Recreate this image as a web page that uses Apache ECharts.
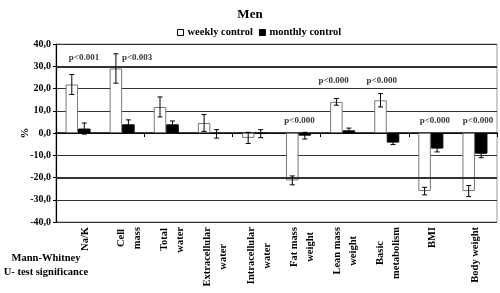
<!DOCTYPE html>
<html>
<head>
<meta charset="utf-8">
<script src="https://cdn.jsdelivr.net/npm/echarts@6/dist/echarts.min.js"></script>
<style>
  html, body { margin: 0; padding: 0; background: #fff; }
  #main { width: 500px; height: 293px; }
</style>
</head>
<body>
<div id="main"></div>
<script>
const categories = ['Na/K', 'Cell\nmass', 'Total\nwater', 'Extracellular\nwater', 'Intracellular\nwater',
  'Fat mass\nweight', 'Lean mass\nweight', 'Basic\nmetabolism', 'BMI', 'Body weight'];
const weekly = [21.8, 29.0, 11.7, 4.5, -2.2, -21.3, 14.0, 14.7, -26.1, -26.1];
const weeklyErr = [4.5, 6.6, 4.5, 3.8, 2.5, 2.0, 1.5, 3.0, 1.7, 2.5];
const monthly = [2.0, 3.9, 3.9, -0.4, -0.3, -1.2, 1.2, -4.3, -7.0, -9.3];
const monthlyErr = [2.5, 2.0, 1.5, 1.9, 1.8, 1.5, 1.0, 0.9, 1.5, 1.8];
const pTexts = ['p<0.001', 'p<0.003', '', '', '', 'p<0.000', 'p<0.000', 'p<0.000', 'p<0.000', 'p<0.000'];
const pLevels = [34, 34, null, null, null, 5.7, 23.3, 23.3, 5.7, 5.7];
const yTicks = [-40, 40, 10];

// label nudges, px
const pShift = [6, 15, 0, 0, 0, 1, -9, -5, 4, 3];

const serif = 'Liberation Serif';
const labelFont = 'bold 10.5px "Liberation Serif"';
const barW = 12.5;

let chart = echarts.init(document.getElementById('main'));

// centre the lines of the rotated category labels: pad shorter lines on their axis end
const ctx = document.createElement('canvas').getContext('2d');
ctx.font = labelFont;
const catRich = {};
function catFormatter(v) {
  const lines = v.split('\n');
  const widths = lines.map((s) => ctx.measureText(s).width);
  const maxW = Math.max(...widths);
  return lines.map((s, i) => {
    const pad = Math.round((maxW - widths[i]) / 2);
    const key = 'p' + pad;
    if (!catRich[key]) {
      catRich[key] = { fontFamily: serif, fontWeight: 'bold', fontSize: 10.5, lineHeight: 16, color: '#000', padding: [0, pad, 0, 0] };
    }
    return '{' + key + '|' + s + '}';
  }).join('\n');
}
categories.forEach(catFormatter);

function errorSeries(name, vals, errs, side) {
  return {
    type: 'custom',
    name: name + ' err',
    z: 5,
    silent: true,
    data: vals.map((v, i) => [i, v, errs[i]]),
    renderItem: function (params, api) {
      const i = api.value(0);
      const v = api.value(1);
      const e = api.value(2);
      const hi = api.coord([i, v + e]);
      const lo = api.coord([i, v - e]);
      const x = hi[0] + side * barW / 2;
      const cap = 2.5;
      const st = { stroke: '#000', lineWidth: 1 };
      return {
        type: 'group',
        children: [
          { type: 'line', shape: { x1: x, y1: hi[1], x2: x, y2: lo[1] }, style: st },
          { type: 'line', shape: { x1: x - cap, y1: hi[1], x2: x + cap, y2: hi[1] }, style: st },
          { type: 'line', shape: { x1: x - cap, y1: lo[1], x2: x + cap, y2: lo[1] }, style: st },
        ],
      };
    },
  };
}

let option = {
  animation: false,
  title: {
    text: 'Men',
    left: 'center',
    top: 3,
    textStyle: { fontFamily: serif, fontWeight: 'bold', fontSize: 13, color: '#000' },
  },
  legend: {
    left: 172,
    top: 22,
    itemWidth: 6,
    itemHeight: 6,
    itemGap: 6,
    icon: 'rect',
    data: ['weekly control', 'monthly control'],
    textStyle: { fontFamily: serif, fontWeight: 'bold', fontSize: 10.5, color: '#000', padding: [0, 0, 0, -1] },
    itemStyle: { borderColor: '#000', borderWidth: 1 },
  },
  grid: [
    {
      left: 56,
      right: 3,
      top: 44,
      bottom: 71,
      show: true,
      borderColor: '#999',
      borderWidth: 1,
    },
    // category names sit on a slightly narrower band, as in the original
    { left: 64, right: 3, top: 44, bottom: 71, show: false },
  ],
  graphic: [
    {
      type: 'text',
      x: 46,
      y: 251,
      style: {
        text: 'Mann-Whitney\nU- test significance',
        align: 'center',
        verticalAlign: 'top',
        lineHeight: 14,
        fontFamily: serif,
        fontWeight: 'bold',
        fontSize: 10.5,
        fill: '#000',
      },
    },
  ],
  xAxis: [
    {
      type: 'category',
      gridIndex: 0,
      data: categories,
      axisLine: { onZero: true, lineStyle: { color: '#000', width: 1.5 } },
      axisTick: { show: true, length: 4, lineStyle: { color: '#000' } },
      axisLabel: { show: false },
      splitLine: { show: false },
    },
    {
      type: 'category',
      gridIndex: 1,
      data: categories,
      position: 'bottom',
      axisLine: { show: false },
      axisTick: { show: false },
      axisLabel: {
        rotate: 90,
        margin: 5,
        interval: 0,
        formatter: catFormatter,
        rich: catRich,
      },
    },
  ],
  yAxis: [
    {
      type: 'value',
      gridIndex: 0,
      min: yTicks[0],
      max: yTicks[1],
      interval: yTicks[2],
      name: '%',
      nameLocation: 'middle',
      nameGap: 25,
      nameMoveOverlap: false,
      nameTextStyle: { fontFamily: serif, fontWeight: 'bold', fontSize: 11, color: '#000' },
      axisLine: { show: true, lineStyle: { color: '#000', width: 1.2 } },
      axisTick: { show: true, length: 3, lineStyle: { color: '#000' } },
      axisLabel: {
        margin: 5,
        formatter: (v) => v.toFixed(1).replace('.', ','),
        fontFamily: serif,
        fontWeight: 'bold',
        fontSize: 10,
        color: '#000',
      },
      splitLine: { show: true, lineStyle: { color: '#333', width: 1 } },
    },
    { type: 'value', gridIndex: 1, show: false },
  ],
  series: [
    {
      type: 'bar',
      name: 'weekly control',
      data: weekly,
      barWidth: barW,
      barGap: '0%',
      itemStyle: { color: '#fff', borderColor: '#777', borderWidth: 1 },
      markLine: {
        silent: true,
        symbol: 'none',
        label: { show: false },
        lineStyle: { color: '#333', width: 2, type: 'solid' },
        data: [{ yAxis: 30 }, { yAxis: -20 }],
      },
    },
    {
      type: 'bar',
      name: 'monthly control',
      data: monthly,
      barWidth: barW,
      barGap: '0%',
      itemStyle: { color: '#000', borderColor: '#000', borderWidth: 1 },
    },
    errorSeries('weekly', weekly, weeklyErr, -1),
    errorSeries('monthly', monthly, monthlyErr, 1),
    {
      type: 'scatter',
      name: 'significance',
      silent: true,
      z: 6,
      symbolSize: 1,
      itemStyle: { color: 'transparent' },
      data: pLevels.map((v, i) => ({
        value: v == null ? null : [i, v],
        label: { offset: [pShift[i], 0] },
      })),
      label: {
        show: true,
        position: 'inside',
        formatter: (p) => pTexts[p.dataIndex],
        fontFamily: serif,
        fontWeight: 'bold',
        fontSize: 9,
        color: '#000',
      },
    },
  ],
};

if (option && typeof option === 'object') {
  chart.setOption(option);
}
</script>
</body>
</html>
